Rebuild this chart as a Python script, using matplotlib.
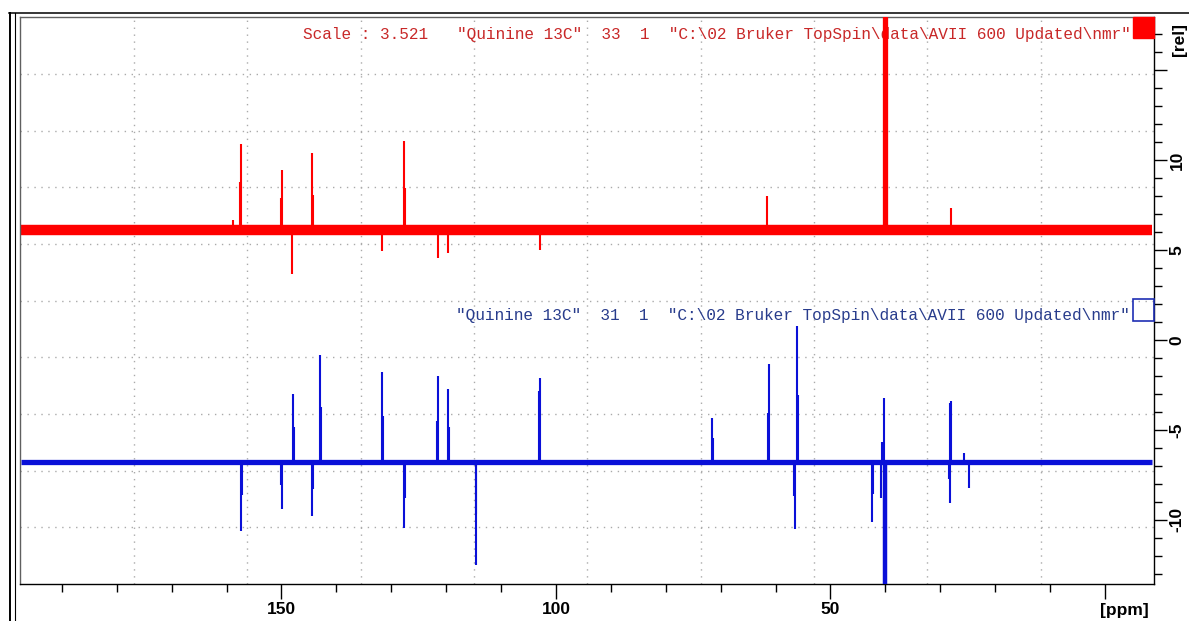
import numpy as np
import matplotlib.pyplot as plt
from matplotlib.lines import Line2D
from matplotlib.patches import Rectangle

plt.rcParams['font.family'] = ['Liberation Sans', 'DejaVu Sans']

# spectrum window [ppm] and baseline levels [rel]
ppm_start, ppm_end = 197.5, -8.6
red_base = 6.11
blue_base = -6.76

# red spectrum (expno 33): peak positions and tip heights
red_ppm = [158.8, 157.6, 157.3, 150.1, 149.85, 148.1, 144.5, 144.3, 131.75,
           127.7, 127.5, 121.4, 119.6, 102.9, 61.6, 28.05]
red_val = [6.67, 8.78, 10.89, 7.91, 9.43, 3.67, 10.37, 8.06, 4.96,
           11.04, 8.44, 4.57, 4.83, 5.0, 8.0, 7.33]
red_solvent_ppm = 40.1
red_solvent_val = 30.0   # off scale

# blue spectrum (expno 31)
blue_ppm = [157.32, 157.14, 149.96, 150.09, 147.96, 147.78, 144.50, 144.32,
            142.99, 142.81, 131.69, 131.51, 127.63, 127.50, 121.49, 121.68,
            119.67, 119.49, 114.63, 114.52, 102.91, 103.10, 71.53, 71.35,
            61.26, 61.44, 56.52, 56.70, 56.05, 55.87, 42.44, 42.26,
            40.26, 40.62, 40.75, 28.0, 28.18, 28.23, 28.42, 25.68, 24.72]
blue_val = [-10.59, -8.61, -9.39, -8.06, -3.02, -4.82, -9.76, -8.28,
            -0.83, -3.72, -1.76, -4.22, -10.46, -8.76, -1.98, -4.5,
            -2.74, -4.82, -12.5, -9.67, -2.13, -2.82, -4.35, -5.46,
            -1.35, -4.04, -10.52, -8.67, 0.78, -3.06, -10.13, -8.57,
            -3.21, -5.65, -8.76, -3.37, -3.5, -9.07, -7.72, -6.26, -8.24]
blue_solvent_ppm = 40.07
blue_solvent_val = -20.0  # off scale

x_major = [150, 100, 50, 0]
x_labels = ['150', '100', '50', '']
x_minor = list(range(190, -1, -10))
y_major = [-10, -5, 0, 5, 10, 15]
y_labels = ['-10', '-5', '0', '5', '10', '']
y_minor = list(range(-13, 18))

red_title = r'Scale : 3.521   "Quinine 13C"  33  1  "C:\02 Bruker TopSpin\data\AVII 600 Updated\nmr"'
blue_title = r'"Quinine 13C"  31  1  "C:\02 Bruker TopSpin\data\AVII 600 Updated\nmr"'

red = '#ff0000'
blue = '#0a10d8'

fig = plt.figure(figsize=(11.89, 6.21), dpi=100)
ax = fig.add_axes([0.01724, 0.0596, 0.9533, 0.91254])
ax.set_xlim(197.54, -8.93)
ax.set_ylim(-13.56, 17.93)

# dotted 10 x 10 grid
for f in np.arange(1, 10) / 10:
    ax.plot([f, f], [0, 1], transform=ax.transAxes, color='#aaaaaa', lw=1,
            ls=(0, (1, 4)), zorder=0.5)
    ax.plot([0, 1], [f, f], transform=ax.transAxes, color='#aaaaaa', lw=1,
            ls=(0, (1, 4)), zorder=0.5)

# baselines (noise band)
ax.plot([ppm_start, ppm_end], [red_base, red_base], color=red, lw=7.5,
        solid_capstyle='butt', zorder=2)
ax.plot([ppm_start, ppm_end], [blue_base, blue_base], color=blue, lw=3.8,
        solid_capstyle='butt', zorder=2)

# peaks
ax.vlines(red_ppm, red_base, red_val, color=red, lw=1.5, zorder=3)
ax.vlines(red_solvent_ppm, red_base, red_solvent_val, color=red, lw=3.8, zorder=3)
ax.vlines(blue_ppm, blue_base, blue_val, color=blue, lw=1.5, zorder=3)
ax.vlines(blue_solvent_ppm, blue_base, blue_solvent_val, color=blue, lw=3.2, zorder=3)

# titles
ax.text(0.9797, 0.9688, red_title, transform=ax.transAxes, ha='right', va='center',
        fontfamily='Liberation Mono', fontsize=11.6, color='#c82828', zorder=1)
ax.text(0.9788, 0.473, blue_title, transform=ax.transAxes, ha='right', va='center',
        fontfamily='Liberation Mono', fontsize=11.6, color='#283c8c', zorder=1)

# colour boxes
ax.add_patch(Rectangle((0.9819, 0.9626), 0.0181, 0.0374, transform=ax.transAxes,
                       facecolor=red, edgecolor=red, clip_on=False, zorder=4))
ax.add_patch(Rectangle((0.9819, 0.464), 0.0181, 0.039, transform=ax.transAxes,
                       fill=False, edgecolor='#1f2fb4', lw=1.2, clip_on=False, zorder=4))

# axes and ticks
ax.set_xticks(x_major)
ax.set_xticklabels(x_labels)
ax.set_xticks(x_minor, minor=True)
ax.yaxis.tick_right()
ax.set_yticks(y_major)
ax.set_yticklabels(y_labels)
ax.set_yticks(y_minor, minor=True)
ax.tick_params(axis='x', which='major', length=10.8, width=1, pad=2.5, labelsize=12.5)
ax.tick_params(axis='x', which='minor', length=5.8, width=1)
ax.tick_params(axis='y', which='major', length=9.1, width=1, pad=2, labelsize=12.5)
ax.tick_params(axis='y', which='minor', length=5.5, width=1)
for lab in ax.get_xticklabels() + ax.get_yticklabels():
    lab.set_fontweight('bold')
for lab in ax.get_yticklabels():
    lab.set_rotation(90)
    lab.set_va('center')

for s in ['left', 'top']:
    ax.spines[s].set_color('#606060')
for s in ax.spines.values():
    s.set_linewidth(1)

fig.text(1124 / 1189, 1 - 610 / 621, '[ppm]', ha='center', va='center',
         fontsize=12.5, fontweight='bold')
fig.text(1180 / 1189, 1 - 40 / 621, '[rel]', ha='center', va='center',
         fontsize=12.5, fontweight='bold', rotation=90)

# window frame lines
ytop = 1 - 12.7 / 621
fig.add_artist(Line2D([9 / 1189, 1], [ytop, ytop], color='black', lw=1.1))
fig.add_artist(Line2D([10.3 / 1189, 10.3 / 1189], [0, ytop], color='black', lw=1.4))
fig.add_artist(Line2D([14.7 / 1189, 14.7 / 1189], [0, ytop], color='black', lw=0.8))

fig.savefig('out.png', dpi=100)
